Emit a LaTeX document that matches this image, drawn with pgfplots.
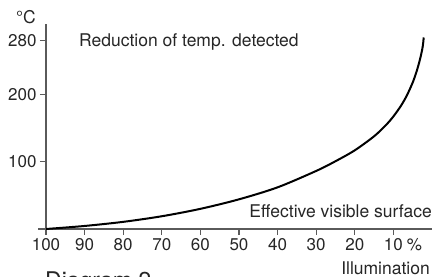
\documentclass[border=0pt]{standalone}
\usepackage{fontspec}
\setmainfont{TeX Gyre Heros}
\usepackage{pgfplots}
\pgfplotsset{compat=1.18}
\definecolor{axgray}{HTML}{5A5A5A}
\definecolor{txt}{HTML}{262626}
\newcommand{\lab}{\fontsize{17.5bp}{20bp}\selectfont}
\newcommand{\tlab}{\fontsize{17bp}{20bp}\selectfont}
\begin{document}
\begin{tikzpicture}[x=1bp,y=1bp]
\begin{axis}[
  at={(46bp,48bp)}, anchor=south west,
  scale only axis, width=386bp, height=205bp,
  x dir=reverse, xmin=0, xmax=100, ymin=0, ymax=304,
  axis x line=bottom, axis y line=left,
  axis line style={-, draw=axgray, line width=1.2bp},
  tick style={draw=axgray, line width=1.2bp},
  tick align=outside, major tick length=6bp,
  xtick={100,90,80,70,60,50,40,30,20,10},
  xticklabels={100,90,80,70,60,50,40,30,20,10\rlap{\hspace{4bp}\%}},
  ytick={100,200,280},
  /pgf/number format/assume math mode=true,
  ticklabel style={font=\tlab, text=txt},
  clip=false,
]
\addplot[black, line width=2bp, smooth] coordinates {
(100,0) (90,4.5) (80,10.6) (70,18.9) (60,29.9) (50,44.0) (40,61.8) (30,86.1)
(25,100.5) (20,116.7) (15,137.5) (12,153.7) (10,166.9) (8,183.1) (6.5,198.2)
(5,217.2) (4,233.4) (3.2,249.5) (2.8,259.2) (2.5,267.4) (2.3,275) (2.15,284)
};
\draw[axgray, line width=1.2bp] (axis cs:102,0) -- (axis cs:100,0);
\end{axis}
\node[anchor=base east, inner sep=0, font=\lab, text=txt] at (36,254) {°C};
\node[anchor=base west, inner sep=0, font=\lab, text=txt] at (79,231) {Reduction of temp. detected};
\node[anchor=base east, inner sep=0, font=\lab, text=txt] at (432,60) {Effective visible surface};
\node[anchor=base east, inner sep=0, font=\lab, text=txt] at (430,3) {Illumination};
\node[anchor=base west, inner sep=0, font=\fontsize{23bp}{27bp}\selectfont, text=txt] at (45,-11) {Diagram 2};
\pgfresetboundingbox
\useasboundingbox (0,0) rectangle (432,277);
\end{tikzpicture}
\end{document}
